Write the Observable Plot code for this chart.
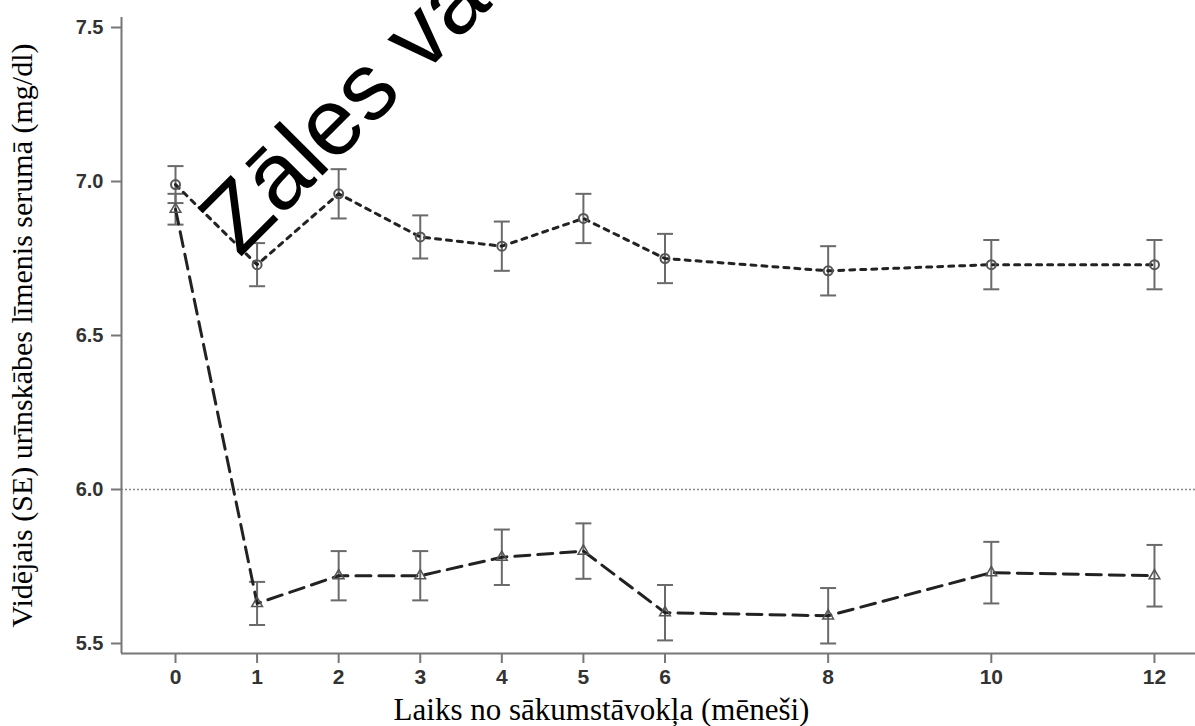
<!DOCTYPE html>
<html>
<head>
<meta charset="utf-8">
<script src="https://cdn.jsdelivr.net/npm/d3@7"></script>
<script src="https://cdn.jsdelivr.net/npm/@observablehq/plot@0.6"></script>
<style>
  html, body { margin: 0; padding: 0; background: #fff; }
  #chart svg { display: block; }
</style>
</head>
<body>
<div id="chart"></div>
<script>
// ---- data ----
const months = [0, 1, 2, 3, 4, 5, 6, 8, 10, 12];
const circleMean = [6.99, 6.73, 6.96, 6.82, 6.79, 6.88, 6.75, 6.71, 6.73, 6.73];
const circleSE   = [0.06, 0.07, 0.08, 0.07, 0.08, 0.08, 0.08, 0.08, 0.08, 0.08];
const triMean    = [6.91, 5.63, 5.72, 5.72, 5.78, 5.80, 5.60, 5.59, 5.73, 5.72];
const triSE      = [0.05, 0.07, 0.08, 0.08, 0.09, 0.09, 0.09, 0.09, 0.10, 0.10];
const yTicks = [5.5, 6.0, 6.5, 7.0, 7.5];
const xTicks = [0, 1, 2, 3, 4, 5, 6, 8, 10, 12];
const refLevel = 6.0;
const yTitle = "Vidējais (SE) urīnskābes līmenis serumā (mg/dl)";
const xTitle = "Laiks no sākumstāvokļa (mēneši)";
const watermark = "Zāles vairs nav reģistrētas";

const xDomain = [-0.662, 12.503];
const yDomain = [5.4675, 7.5325];

const circleData = months.map((m, i) => ({month: m, mean: circleMean[i], lo: circleMean[i] - circleSE[i], hi: circleMean[i] + circleSE[i]}));
const triData = months.map((m, i) => ({month: m, mean: triMean[i], lo: triMean[i] - triSE[i], hi: triMean[i] + triSE[i]}));

// horizontal cap symbol for error bars
const capSymbol = { draw(ctx, size) { ctx.moveTo(-8, 0); ctx.lineTo(8, 0); } };

const errColor = "#6a6a6a";
const lineColor = "#222";
const sans = "Liberation Sans, Arial, sans-serif";
const serif = "Liberation Serif, Times New Roman, serif";

function errorBars(data) {
  return [
    Plot.ruleX(data, {x: "month", y1: "lo", y2: "hi", stroke: errColor, strokeWidth: 2}),
    Plot.dot(data, {x: "month", y: "lo", symbol: capSymbol, stroke: errColor, strokeWidth: 2, r: 8}),
    Plot.dot(data, {x: "month", y: "hi", symbol: capSymbol, stroke: errColor, strokeWidth: 2, r: 8})
  ];
}

const plot = Plot.plot({
  width: 1195,
  height: 726,
  marginLeft: 121,
  marginRight: 0,
  marginTop: 17,
  marginBottom: 73,
  style: {background: "#fff", color: "#333", overflow: "hidden"},
  x: {domain: xDomain, axis: null},
  y: {domain: yDomain, axis: null},
  marks: [
    // reference line
    Plot.ruleY([refLevel], {stroke: "#888", strokeWidth: 1.6, strokeDasharray: "2,2"}),
    // axes: tick marks
    Plot.axisX({ticks: xTicks, tickSize: 10, text: null, label: null, stroke: "#777", strokeWidth: 2}),
    Plot.axisY({ticks: yTicks, tickSize: 10, text: null, label: null, stroke: "#777", strokeWidth: 2}),
    // axes: tick labels as text marks
    Plot.text(xTicks, {x: d => d, text: d => String(d), frameAnchor: "bottom", dy: 30,
                       fontSize: 21, fontWeight: "bold", fontFamily: sans, fill: "#333"}),
    Plot.text(yTicks, {y: d => d, text: d3.format(".1f"), frameAnchor: "left", dx: -18, textAnchor: "end",
                       fontSize: 20, fontWeight: "bold", fontFamily: sans, fill: "#333"}),
    Plot.ruleX([xDomain[0]], {stroke: "#777", strokeWidth: 2}),
    Plot.ruleY([yDomain[0]], {stroke: "#777", strokeWidth: 2}),
    // error bars
    ...errorBars(circleData),
    ...errorBars(triData),
    // lines
    Plot.line(circleData, {x: "month", y: "mean", stroke: lineColor, strokeWidth: 3, strokeDasharray: "5,6"}),
    Plot.line(triData, {x: "month", y: "mean", stroke: lineColor, strokeWidth: 3, strokeDasharray: "15,8"}),
    // markers
    Plot.dot(circleData, {x: "month", y: "mean", symbol: "circle", r: 4.5, stroke: "#555", strokeWidth: 2, fill: "none"}),
    Plot.dot(triData, {x: "month", y: "mean", symbol: "triangle", r: 4, stroke: "#555", strokeWidth: 1.5, fill: "none"}),
    // titles
    Plot.text([yTitle], {text: d => d, frameAnchor: "left", dx: -99, rotate: -90, textAnchor: "middle",
                         fontSize: 30, fontFamily: serif, fill: "#000"}),
    Plot.text([xTitle], {text: d => d, frameAnchor: "bottom", dx: -57, dy: 66, textAnchor: "middle",
                         fontSize: 31, fontFamily: serif, fill: "#000"}),
    // watermark
    Plot.text([watermark], {text: d => d, frameAnchor: "top-left", dx: 118, dy: 241, rotate: -45,
                            textAnchor: "start", lineAnchor: "bottom", fontSize: 95,
                            fontFamily: sans, fill: "#000"})
  ]
});
document.getElementById("chart").appendChild(plot);
</script>
</body>
</html>
